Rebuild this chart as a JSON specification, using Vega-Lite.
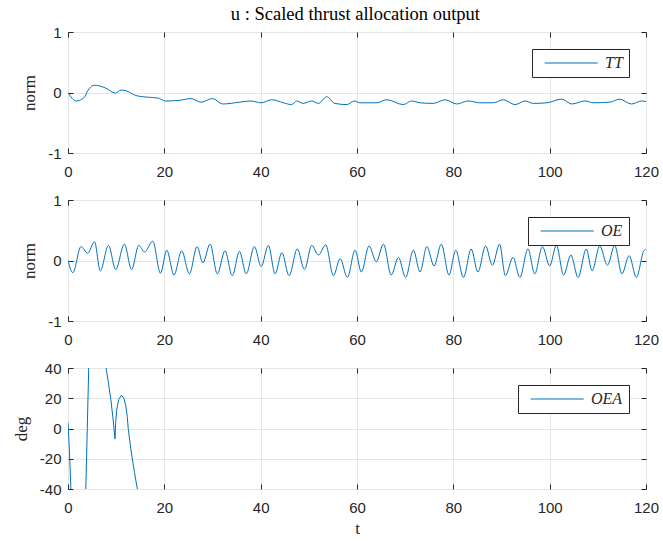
{
  "$schema": "https://vega.github.io/schema/vega-lite/v6.json",
  "padding": {"left": 11, "top": 5, "right": 4, "bottom": 0},
  "background": "white",
  "title": {"text": "u : Scaled thrust allocation output", "font": "Liberation Serif", "fontSize": 18.5, "fontWeight": "normal", "color": "#000000", "anchor": "middle", "offset": 1, "dx": 20},
  "spacing": 12,
  "config": {
    "view": {"stroke": "#262626", "strokeWidth": 1},
    "axis": {"labelFont": "Liberation Sans", "labelFontSize": 15, "labelColor": "#262626", "titleFont": "Liberation Serif", "titleFontSize": 17, "titleFontWeight": "normal", "titleColor": "#262626", "gridColor": "#e6e6e6", "gridWidth": 1, "tickColor": "#262626", "tickSize": -5, "domain": false, "labelFlush": false},
    "axisX": {"labelPadding": 16},
    "axisY": {"labelPadding": 12},
    "legend": {"orient": "top-right", "offset": 17, "strokeColor": "#262626", "fillColor": "white", "padding": 6, "symbolType": "M-0.24,0H9.4", "symbolSize": 121, "symbolStrokeWidth": 1, "symbolFillColor": "transparent", "labelFont": "Liberation Serif", "labelFontStyle": "italic", "labelFontSize": 16, "labelColor": "#262626", "labelOffset": 51}
  },
  "datasets": {
    "tt": [
      {"t": 0, "v": 0}, {"t": 1.7, "v": -0.14}, {"t": 3.4, "v": -0.08}, {"t": 4.1, "v": 0.03}, {"t": 5.5, "v": 0.12}, {"t": 7.9, "v": 0.07}, {"t": 9.8, "v": -0.01}, {"t": 11.0, "v": 0.04}, {"t": 12.0, "v": 0.03}, {"t": 14.1, "v": -0.05}, {"t": 16.9, "v": -0.08}, {"t": 18.6, "v": -0.09}, {"t": 20.3, "v": -0.14}, {"t": 23.1, "v": -0.13}, {"t": 25.5, "v": -0.10}, {"t": 27.6, "v": -0.16}, {"t": 30.0, "v": -0.10}, {"t": 32.1, "v": -0.19}, {"t": 35.6, "v": -0.16}, {"t": 38.0, "v": -0.14}, {"t": 40.1, "v": -0.17}, {"t": 42.3, "v": -0.12}, {"t": 44.7, "v": -0.17}, {"t": 46.4, "v": -0.20}, {"t": 47.5, "v": -0.14}, {"t": 48.8, "v": -0.18}, {"t": 50.6, "v": -0.14}, {"t": 52.0, "v": -0.18}, {"t": 53.7, "v": -0.07}, {"t": 55.4, "v": -0.18}, {"t": 57.9, "v": -0.20}, {"t": 59.4, "v": -0.14}, {"t": 60.6, "v": -0.17}, {"t": 62.3, "v": -0.17}, {"t": 64.1, "v": -0.17}, {"t": 66.2, "v": -0.12}, {"t": 69.6, "v": -0.20}, {"t": 71.3, "v": -0.14}, {"t": 73.1, "v": -0.17}, {"t": 75.8, "v": -0.18}, {"t": 78.3, "v": -0.12}, {"t": 80.7, "v": -0.19}, {"t": 83.1, "v": -0.14}, {"t": 85.5, "v": -0.17}, {"t": 88.3, "v": -0.17}, {"t": 90.4, "v": -0.12}, {"t": 92.8, "v": -0.20}, {"t": 94.9, "v": -0.14}, {"t": 96.6, "v": -0.18}, {"t": 99.4, "v": -0.17}, {"t": 102.5, "v": -0.11}, {"t": 104.6, "v": -0.19}, {"t": 107.3, "v": -0.14}, {"t": 109.1, "v": -0.17}, {"t": 112.5, "v": -0.16}, {"t": 114.5, "v": -0.11}, {"t": 117.0, "v": -0.19}, {"t": 119.1, "v": -0.14}, {"t": 120, "v": -0.15}
    ],
    "oe": [
      {"t": 0, "v": 0.0}, {"t": 1.0, "v": -0.20}, {"t": 2.7, "v": 0.23}, {"t": 4.1, "v": 0.12}, {"t": 5.5, "v": 0.31}, {"t": 6.7, "v": -0.17}, {"t": 8.4, "v": 0.25}, {"t": 9.9, "v": -0.15}, {"t": 11.7, "v": 0.27}, {"t": 13.2, "v": -0.15}, {"t": 14.7, "v": 0.25}, {"t": 15.9, "v": 0.14}, {"t": 17.6, "v": 0.32}, {"t": 19.2, "v": -0.21}, {"t": 20.5, "v": 0.17}, {"t": 22.0, "v": -0.24}, {"t": 23.6, "v": 0.16}, {"t": 25.2, "v": -0.22}, {"t": 26.8, "v": 0.23}, {"t": 28.0, "v": -0.04}, {"t": 29.5, "v": 0.27}, {"t": 31.0, "v": -0.22}, {"t": 32.6, "v": 0.16}, {"t": 34.1, "v": -0.25}, {"t": 35.6, "v": 0.15}, {"t": 37.0, "v": -0.22}, {"t": 38.7, "v": 0.23}, {"t": 40.1, "v": -0.10}, {"t": 41.6, "v": 0.25}, {"t": 43.0, "v": -0.22}, {"t": 44.4, "v": 0.13}, {"t": 45.9, "v": -0.25}, {"t": 47.6, "v": 0.19}, {"t": 49.1, "v": -0.15}, {"t": 50.6, "v": 0.25}, {"t": 52.0, "v": 0.09}, {"t": 53.5, "v": 0.26}, {"t": 55.1, "v": -0.25}, {"t": 56.5, "v": 0.03}, {"t": 58.0, "v": -0.28}, {"t": 59.6, "v": 0.17}, {"t": 60.9, "v": -0.19}, {"t": 62.5, "v": 0.24}, {"t": 64.0, "v": -0.02}, {"t": 65.5, "v": 0.27}, {"t": 67.1, "v": -0.24}, {"t": 68.6, "v": 0.05}, {"t": 70.1, "v": -0.28}, {"t": 71.7, "v": 0.17}, {"t": 73.1, "v": -0.19}, {"t": 74.5, "v": 0.23}, {"t": 76.0, "v": -0.09}, {"t": 77.5, "v": 0.27}, {"t": 79.1, "v": -0.24}, {"t": 80.5, "v": 0.17}, {"t": 82.1, "v": -0.28}, {"t": 83.7, "v": 0.19}, {"t": 85.1, "v": -0.19}, {"t": 86.7, "v": 0.24}, {"t": 88.1, "v": -0.08}, {"t": 89.6, "v": 0.27}, {"t": 90.8, "v": -0.25}, {"t": 92.4, "v": 0.05}, {"t": 93.8, "v": -0.28}, {"t": 95.5, "v": 0.19}, {"t": 96.9, "v": -0.22}, {"t": 98.5, "v": 0.23}, {"t": 100.0, "v": -0.09}, {"t": 101.4, "v": 0.25}, {"t": 102.9, "v": -0.24}, {"t": 104.4, "v": 0.09}, {"t": 105.9, "v": -0.28}, {"t": 107.6, "v": 0.19}, {"t": 108.8, "v": -0.17}, {"t": 110.4, "v": 0.24}, {"t": 112.0, "v": -0.08}, {"t": 113.5, "v": 0.25}, {"t": 115.0, "v": -0.22}, {"t": 116.5, "v": 0.08}, {"t": 118.0, "v": -0.28}, {"t": 119.5, "v": 0.15}, {"t": 120, "v": 0.19}
    ],
    "oea": [
      {"t": 0, "v": 4}, {"t": 0.3, "v": -15}, {"t": 0.6, "v": -40}, {"t": 1.0, "v": -70}, {"t": 2.0, "v": -100}, {"t": 3.0, "v": -90}, {"t": 3.5, "v": -60}, {"t": 3.7, "v": -40}, {"t": 4.0, "v": 0}, {"t": 4.3, "v": 40}, {"t": 4.6, "v": 65}, {"t": 5.5, "v": 90}, {"t": 6.5, "v": 75}, {"t": 7.3, "v": 55}, {"t": 7.9, "v": 40}, {"t": 8.4, "v": 30}, {"t": 8.9, "v": 19}, {"t": 9.4, "v": 5}, {"t": 9.76, "v": -7}, {"t": 9.9, "v": 4}, {"t": 10.1, "v": 12}, {"t": 10.5, "v": 19}, {"t": 11.1, "v": 22}, {"t": 11.6, "v": 20}, {"t": 12.0, "v": 15}, {"t": 12.3, "v": 8}, {"t": 12.5, "v": 0}, {"t": 12.9, "v": -10}, {"t": 13.3, "v": -19}, {"t": 13.8, "v": -29}, {"t": 14.4, "v": -40}, {"t": 15.0, "v": -50}
    ]
  },
  "vconcat": [
    {
      "width": 578, "height": 121,
      "data": {"name": "tt"},
      "transform": [{"calculate": "'TT'", "as": "s"}],
      "layer": [
        {
          "mark": {"type": "line", "strokeWidth": 1, "interpolate": "monotone", "clip": true},
          "encoding": {
            "x": {"field": "t", "type": "quantitative", "scale": {"domain": [0, 120], "nice": false}, "axis": {"values": [0, 20, 40, 60, 80, 100, 120], "title": null}},
            "y": {"field": "v", "type": "quantitative", "scale": {"domain": [-1, 1], "nice": false}, "axis": {"values": [-1, 0, 1], "title": "norm", "labelExpr": "'' + datum.value", "titlePadding": 9}},
            "color": {"field": "s", "type": "nominal", "scale": {"domain": ["TT"], "range": ["#0072BD"]}, "legend": {"title": null}}
          }
        },
        {
          "mark": {"type": "line", "opacity": 0},
          "encoding": {
            "x": {"field": "t", "type": "quantitative", "axis": {"orient": "top", "values": [0, 20, 40, 60, 80, 100, 120], "labels": false, "grid": false, "title": null}},
            "y": {"field": "v", "type": "quantitative", "axis": {"orient": "right", "values": [-1, 0, 1], "labels": false, "grid": false, "title": null}}
          }
        }
      ],
      "resolve": {"axis": {"x": "independent", "y": "independent"}}
    },
    {
      "width": 578, "height": 121,
      "data": {"name": "oe"},
      "transform": [{"calculate": "'OE'", "as": "s"}],
      "layer": [
        {
          "mark": {"type": "line", "strokeWidth": 1, "interpolate": "monotone", "clip": true},
          "encoding": {
            "x": {"field": "t", "type": "quantitative", "scale": {"domain": [0, 120], "nice": false}, "axis": {"values": [0, 20, 40, 60, 80, 100, 120], "title": null}},
            "y": {"field": "v", "type": "quantitative", "scale": {"domain": [-1, 1], "nice": false}, "axis": {"values": [-1, 0, 1], "title": "norm", "labelExpr": "'' + datum.value", "titlePadding": 9}},
            "color": {"field": "s", "type": "nominal", "scale": {"domain": ["OE"], "range": ["#0072BD"]}, "legend": {"title": null}}
          }
        },
        {
          "mark": {"type": "line", "opacity": 0},
          "encoding": {
            "x": {"field": "t", "type": "quantitative", "axis": {"orient": "top", "values": [0, 20, 40, 60, 80, 100, 120], "labels": false, "grid": false, "title": null}},
            "y": {"field": "v", "type": "quantitative", "axis": {"orient": "right", "values": [-1, 0, 1], "labels": false, "grid": false, "title": null}}
          }
        }
      ],
      "resolve": {"axis": {"x": "independent", "y": "independent"}}
    },
    {
      "width": 578, "height": 121,
      "data": {"name": "oea"},
      "transform": [{"calculate": "'OEA'", "as": "s"}],
      "layer": [
        {
          "mark": {"type": "line", "strokeWidth": 1, "clip": true},
          "encoding": {
            "x": {"field": "t", "type": "quantitative", "scale": {"domain": [0, 120], "nice": false}, "axis": {"values": [0, 20, 40, 60, 80, 100, 120], "title": "t", "titlePadding": 5}},
            "y": {"field": "v", "type": "quantitative", "scale": {"domain": [-40, 40], "nice": false}, "axis": {"values": [-40, -20, 0, 20, 40], "title": "deg", "labelExpr": "'' + datum.value", "titlePadding": 9}},
            "color": {"field": "s", "type": "nominal", "scale": {"domain": ["OEA"], "range": ["#0072BD"]}, "legend": {"title": null}}
          }
        },
        {
          "mark": {"type": "line", "opacity": 0, "clip": true},
          "encoding": {
            "x": {"field": "t", "type": "quantitative", "axis": {"orient": "top", "values": [0, 20, 40, 60, 80, 100, 120], "labels": false, "grid": false, "title": null}},
            "y": {"field": "v", "type": "quantitative", "axis": {"orient": "right", "values": [-40, -20, 0, 20, 40], "labels": false, "grid": false, "title": null}}
          }
        }
      ],
      "resolve": {"axis": {"x": "independent", "y": "independent"}}
    }
  ],
  "resolve": {"scale": {"color": "independent"}, "legend": {"color": "independent"}}
}
